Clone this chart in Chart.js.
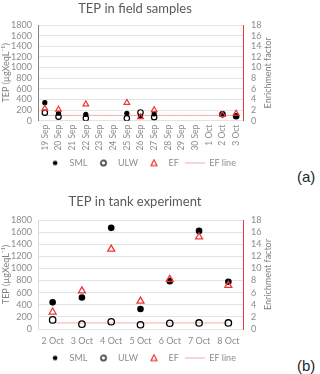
<!DOCTYPE html>
<html>
<head>
<meta charset="utf-8">
<script src="https://cdn.jsdelivr.net/npm/chart.js@4"></script>
<style>
  body { margin: 0; width: 320px; height: 374px; position: relative; background: #fff; overflow: hidden; }
  canvas { position: absolute; left: 0; }
  .tag { position: absolute; left: 297px; font: 15px "Liberation Sans", Arial, sans-serif; color: #262626; }
</style>
</head>
<body>
<canvas id="fieldChart" width="280" height="178" style="top:0"></canvas>
<canvas id="tankChart" width="280" height="188" style="top:186px"></canvas>
<div class="tag" style="top:168px">(a)</div>
<div class="tag" style="top:357px">(b)</div>
<script>
// --- data ---
const fieldDays = ['19 Sep', '20 Sep', '21 Sep', '22 Sep', '23 Sep', '24 Sep', '25 Sep', '26 Sep',
                   '27 Sep', '28 Sep', '29 Sep', '30 Sep', '1 Oct', '2 Oct', '3 Oct'];
const fieldSML = [340, 140, null, 120, null, null, 140, 80, 130, null, null, null, null, 135, 95];
const fieldULW = [150, 75, null, 45, null, null, 45, 155, 65, null, null, null, null, 120, 85];
const fieldEF  = [2.3, 2.1, null, 3.1, null, null, 3.4, 0.7, 2.0, null, null, null, null, 1.1, 1.35];
const fieldEFLine = [1, 1, 1, 1, 1, 1, 1, 1, 1, 1, 1, 1, 1, 1, 1];

const tankDays = ['2 Oct', '3 Oct', '4 Oct', '5 Oct', '6 Oct', '7 Oct', '8 Oct'];
const tankSML = [440, 520, 1670, 330, 790, 1620, 780];
const tankULW = [150, 80, 120, 70, 95, 100, 100];
const tankEF  = [2.8, 6.3, 13.2, 4.6, 8.2, 15.2, 7.2];
const tankEFLine = [1, 1, 1, 1, 1, 1, 1];

const tepTicks = { min: 0, max: 1800, step: 200 };
const efTicks = { min: 0, max: 18, step: 2 };

Chart.defaults.font.family = 'Lato, "Open Sans", sans-serif';

const grey = '#8c8c8c';
const red = 'rgb(238, 56, 56)';
const pink = '#f5aaaa';

// small pictures for the legend, excel style
function legendIcon(kind) {
    const c = document.createElement('canvas');
    c.width = 20; c.height = 9;
    const g = c.getContext('2d');
    g.lineWidth = 1.2;
    if (kind === 'dot') {
        g.fillStyle = '#000';
        g.beginPath(); g.arc(10, 4.5, 2.3, 0, Math.PI * 2); g.fill();
    } else if (kind === 'ring') {
        g.strokeStyle = '#000';
        g.beginPath(); g.arc(10, 4.5, 2.6, 0, Math.PI * 2); g.stroke();
    } else if (kind === 'tri') {
        g.strokeStyle = red;
        g.beginPath(); g.moveTo(10, 1.3); g.lineTo(13, 7.2); g.lineTo(7, 7.2); g.closePath(); g.stroke();
    } else {
        g.fillStyle = pink;
        g.fillRect(0, 4, 20, 1);
    }
    return c;
}
const icons = ['dot', 'ring', 'tri', 'line'].map(legendIcon);

// secondary axis title reads bottom-to-top like the original
const rightTitle = {
    id: 'rightTitle',
    afterDraw(chart) {
        const s = chart.scales.y1, a = chart.chartArea, ctx = chart.ctx;
        ctx.save();
        ctx.translate(s.right - 2, (a.top + a.bottom) / 2);
        ctx.rotate(-Math.PI / 2);
        ctx.font = '9px Lato, "Open Sans", sans-serif';
        ctx.fillStyle = '#7f7f7f';
        ctx.textAlign = 'center';
        ctx.textBaseline = 'middle';
        ctx.fillText('Enrichment factor', 0, 0);
        ctx.restore();
    }
};

function buildChart(id, title, days, sml, ulw, ef, efLine, look) {
    return new Chart(document.getElementById(id), {
        type: 'line',
        data: {
            labels: days,
            datasets: [
                { label: 'SML', data: sml, showLine: false, order: 3,
                  pointRadius: look.dot, pointHoverRadius: look.dot,
                  pointBackgroundColor: '#000', pointBorderColor: '#000', pointBorderWidth: 0 },
                { label: 'ULW', data: ulw, showLine: false, order: 2,
                  pointRadius: look.ring, pointHoverRadius: look.ring,
                  pointBackgroundColor: 'transparent', pointBorderColor: '#000', pointBorderWidth: look.bw },
                { label: 'EF', data: ef, yAxisID: 'y1', showLine: false, order: 1, pointStyle: 'triangle',
                  pointRadius: look.tri, pointHoverRadius: look.tri,
                  pointBackgroundColor: 'transparent', pointBorderColor: red, pointBorderWidth: look.bw },
                { label: 'EF line', data: efLine, yAxisID: 'y1', order: 4,
                  borderColor: pink, borderWidth: 1, pointRadius: 0, fill: false }
            ]
        },
        options: {
            responsive: false,
            animation: false,
            events: [],
            layout: { padding: { top: 0, left: 0, right: 10, bottom: look.padBottom } },
            plugins: {
                title: {
                    display: true, text: title, color: '#595959',
                    font: { size: 13, weight: 'normal' },
                    padding: { top: look.titleTop, bottom: look.titleBottom }
                },
                legend: {
                    position: 'bottom', fullSize: false,
                    labels: {
                        usePointStyle: true, pointStyleWidth: 20, padding: 6,
                        color: grey, font: { size: 9 },
                        generateLabels: chart => chart.data.datasets.map((ds, i) => ({
                            text: ds.label, pointStyle: icons[i], fillStyle: 'transparent',
                            strokeStyle: 'transparent', lineWidth: 0, hidden: false,
                            datasetIndex: i, fontColor: grey
                        }))
                    }
                },
                tooltip: { enabled: false }
            },
            scales: {
                x: {
                    offset: true,
                    grid: { display: false, drawTicks: false },
                    border: { display: false },
                    ticks: { color: grey, font: { size: look.xFont }, autoSkip: false,
                             minRotation: look.rot, maxRotation: look.rot, padding: look.xPad },
                    afterFit: s => { s.height = look.xHeight; }
                },
                y: {
                    position: 'left',
                    min: tepTicks.min, max: tepTicks.max,
                    ticks: { stepSize: tepTicks.step, autoSkip: false, color: grey, font: { size: 9 },
                             padding: 6, callback: v => String(v) },
                    grid: { color: '#e4e4e4', drawTicks: false },
                    border: { color: look.leftBorder },
                    title: { display: true, text: 'TEP (µgXeqL⁻¹)', color: '#7f7f7f',
                             font: { size: 9 }, padding: { top: 1, bottom: 0 } },
                    afterFit: s => { s.width = 38; }
                },
                y1: {
                    position: 'right',
                    min: efTicks.min, max: efTicks.max,
                    ticks: { stepSize: efTicks.step, autoSkip: false, color: grey, font: { size: 9 },
                             padding: 8, callback: v => String(v) },
                    grid: { drawOnChartArea: false, drawTicks: false },
                    border: { color: red, width: 1 },
                    afterFit: s => { s.width = 27; }
                }
            }
        },
        plugins: [rightTitle]
    });
}

buildChart('fieldChart', 'TEP in field samples', fieldDays, fieldSML, fieldULW, fieldEF, fieldEFLine, {
    dot: 2.6, ring: 2.7, tri: 3.3, bw: 1.2,
    rot: 90, xFont: 8.5, xPad: 4, xHeight: 31.8,
    titleTop: 1.5, titleBottom: 8, padBottom: 0.5,
    leftBorder: '#808080'
});

buildChart('tankChart', 'TEP in tank experiment', tankDays, tankSML, tankULW, tankEF, tankEFLine, {
    dot: 3.3, ring: 3.2, tri: 4, bw: 1.3,
    rot: 0, xFont: 9, xPad: 6.5, xHeight: 18.5,
    titleTop: 8.2, titleBottom: 10.2, padBottom: 1.5,
    leftBorder: '#d9d9d9'
});
</script>
</body>
</html>
